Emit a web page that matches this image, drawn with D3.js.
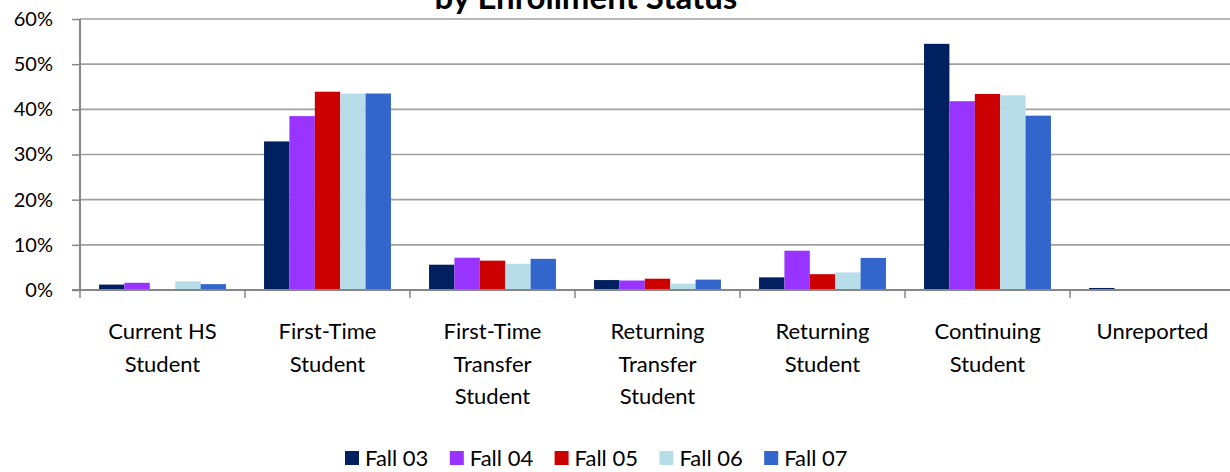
<!DOCTYPE html>
<html><head><meta charset="utf-8">
<script src="https://cdn.jsdelivr.net/npm/d3@7"></script>
<style>body{margin:0;background:#fff;}svg{display:block;font-family:Lato,"Open Sans",sans-serif;}</style>
</head><body><svg id="c" width="1230" height="472"></svg>
<script>
const categories = [["Current HS","Student"],["First-Time","Student"],["First-Time","Transfer","Student"],["Returning","Transfer","Student"],["Returning","Student"],["Continuing","Student"],["Unreported"]];
const seriesNames = ["Fall 03","Fall 04","Fall 05","Fall 06","Fall 07"];
const colors = ["#002060","#9933FF","#CC0000","#B7DDE8","#3366CC"];
const fall03 = [1.2, 32.9, 5.6, 2.2, 2.8, 54.5, 0.45];
const fall04 = [1.6, 38.5, 7.15, 2.1, 8.7, 41.8, 0];
const fall05 = [0, 43.9, 6.5, 2.5, 3.5, 43.4, 0];
const fall06 = [1.9, 43.5, 5.8, 1.4, 3.9, 43.1, 0.2];
const fall07 = [1.3, 43.5, 6.9, 2.3, 7.1, 38.6, 0.2];
const yTicks = [0,10,20,30,40,50,60];
const series = [fall03, fall04, fall05, fall06, fall07];

const svg = d3.select("#c");
const L = 80, R = 1235, T = 19, B = 290;
const x = d3.scaleBand().domain(d3.range(categories.length)).range([L, R]).paddingInner(0).paddingOuter(0);
const xi = d3.scaleBand().domain(d3.range(series.length)).range([0, x.bandwidth()]).paddingInner(0).paddingOuter(0.75);
const y = d3.scaleLinear().domain([0, 60]).range([B, T]);

// gridlines
svg.append("g").selectAll("line").data(yTicks.filter(d => d > 0)).join("line")
  .attr("x1", L).attr("x2", R).attr("y1", d => y(d)).attr("y2", d => y(d))
  .attr("stroke", "#a0a0a0").attr("stroke-width", 1.6);

// bars
const g = svg.append("g");
series.forEach((s, si) => {
  g.append("g").selectAll("rect").data(s).join("rect")
    .attr("x", (d, i) => x(i) + xi(si))
    .attr("width", xi.bandwidth())
    .attr("y", d => y(d))
    .attr("height", d => B - y(d))
    .attr("fill", colors[si]);
});

// y axis
const ya = svg.append("g").attr("transform", `translate(${L},0)`)
  .call(d3.axisLeft(y).tickValues(yTicks).tickFormat(d => d + "%").tickSize(8).tickPadding(19));
ya.select(".domain").attr("stroke", "#868686").attr("stroke-width", 2).attr("d", `M0,${T}V${B}`);
ya.selectAll(".tick line").attr("stroke", "#868686").attr("stroke-width", 1.5);
ya.selectAll(".tick text").attr("font-size", 20).attr("fill", "#000").attr("font-family", "Lato,sans-serif");

// x axis line and ticks
svg.append("line").attr("x1", L - 8).attr("x2", R).attr("y1", B).attr("y2", B).attr("stroke", "#868686").attr("stroke-width", 2);
svg.append("g").selectAll("line").data(d3.range(categories.length + 1)).join("line")
  .attr("x1", i => L + i * x.bandwidth()).attr("x2", i => L + i * x.bandwidth())
  .attr("y1", B).attr("y2", B + 8).attr("stroke", "#868686").attr("stroke-width", 1.5);

// category labels
const cl = svg.append("g").selectAll("text").data(categories).join("text")
  .attr("x", (d, i) => x(i) + x.bandwidth() / 2)
  .attr("y", 339).attr("text-anchor", "middle").attr("font-size", 22).attr("fill", "#000");
cl.selectAll("tspan").data(d => d).join("tspan")
  .attr("x", function() { return d3.select(this.parentNode).attr("x"); })
  .attr("dy", (d, i) => i === 0 ? 0 : 32.5).text(d => d);

// title (partially visible, as in the reference)
svg.append("text").attr("x", 586).attr("y", 9).attr("text-anchor", "middle")
  .attr("font-size", 33).attr("font-weight", "bold").attr("fill", "#000").text("by Enrollment Status");

// legend
const lg = svg.append("g").selectAll("g").data(seriesNames).join("g")
  .attr("transform", (d, i) => `translate(${345 + i * 104.8},0)`);
lg.append("rect").attr("x", 0).attr("y", 451).attr("width", 14).attr("height", 14).attr("fill", (d, i) => colors[i]);
lg.append("text").attr("x", 20).attr("y", 466).attr("font-size", 22).attr("fill", "#000").text(d => d);
</script></body></html>
